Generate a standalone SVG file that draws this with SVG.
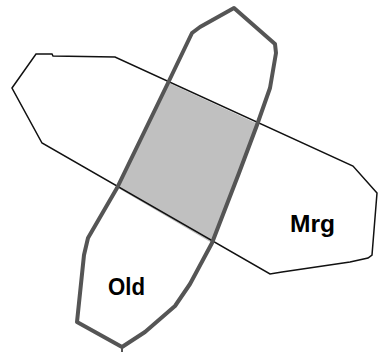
<svg xmlns="http://www.w3.org/2000/svg" width="378" height="352" viewBox="0 0 378 352">
<style>
.thin{fill:none;stroke:#111;stroke-width:1.5;stroke-linejoin:miter}
.thick{fill:none;stroke:#555;stroke-width:4;stroke-linejoin:round}
.lbl{font-family:"Liberation Sans",Arial,sans-serif;font-weight:bold;font-size:23px;fill:#000}
</style>
<rect width="378" height="352" fill="#fff"/>
<g id="overlap">
<polygon points="167,82 258,124 212,243 118,188" fill="#c0c0c0"/>
</g>
<g id="mrg">
<polygon class="thin" points="12,88 36,54 52,54 53,56 115,57 353,166 377,193 372,255 368,258 350,262 282,272 270,274 42,143"/>
<text class="lbl" x="290" y="232" textLength="45" lengthAdjust="spacingAndGlyphs">Mrg</text>
</g>
<g id="old">
<polygon class="thick" points="234,8 275,44 276,53 270,88 257,125 239,173 212,243 190,284 175,306 145,332 122,347 77,322 84,255 88,238 117,188 168,83 192,33 200,27"/>
<line x1="122" y1="347" x2="122" y2="352" stroke="#555" stroke-width="2"/>
<text class="lbl" x="108" y="295" textLength="37" lengthAdjust="spacingAndGlyphs">Old</text>
</g>
</svg>
